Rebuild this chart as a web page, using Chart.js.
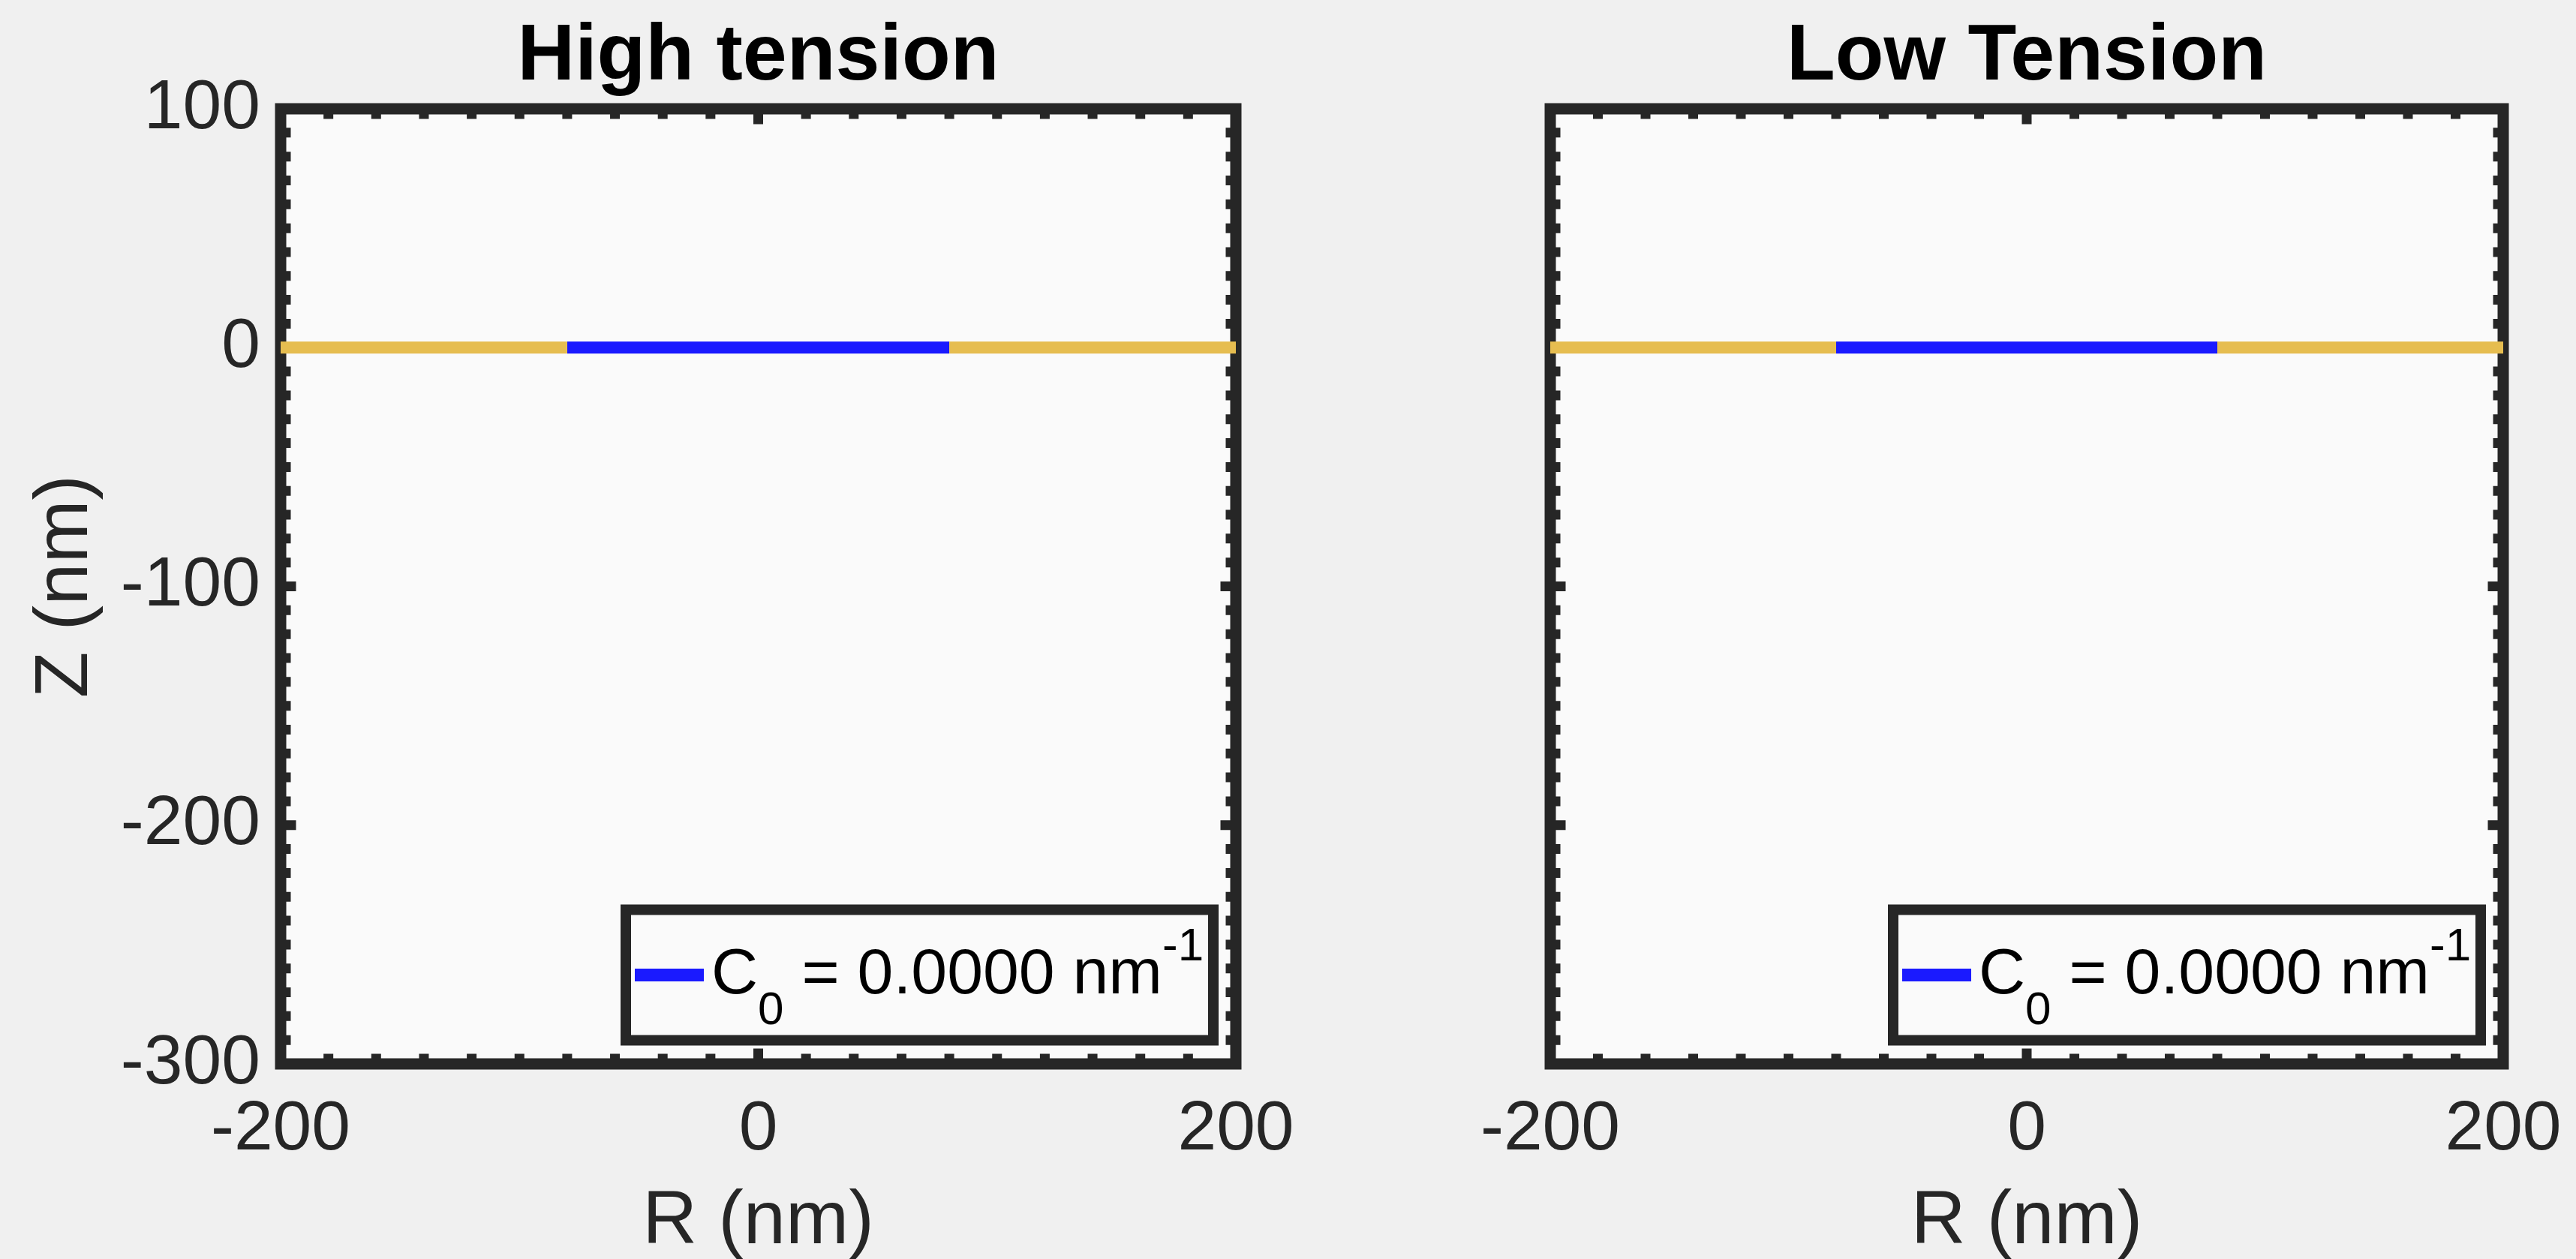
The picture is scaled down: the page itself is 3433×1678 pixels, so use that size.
<!DOCTYPE html>
<html><head><meta charset="utf-8">
<script src="https://cdn.jsdelivr.net/npm/chart.js@4.4.1/dist/chart.umd.min.js"></script>
<style>
html,body{margin:0;padding:0;background:#f0f0f0;width:3433px;height:1678px;overflow:hidden;position:relative}
canvas{position:absolute;top:0}
#c1{left:0}
#c2{left:1760px}
</style></head><body>
<canvas id="c1" width="1800" height="1678" style="width:1800px;height:1678px"></canvas>
<canvas id="c2" width="1740" height="1678" style="width:1740px;height:1678px"></canvas>
<script>
// ---- data ----
const PANEL_TITLES = ['High tension', 'Low Tension'];
const X_TITLE = 'R (nm)';
const Y_TITLE = 'Z (nm)';
const X_RANGE = [-200, 200];
const Y_RANGE = [-300, 100];
const X_TICKS = [-200, 0, 200];
const Y_TICKS = [-300, -200, -100, 0, 100];
const X_MINOR_STEP = 20;
const Y_MINOR_STEP = 10;

// High tension panel
const HIGH_RIM_LEFT_R = [-200, -80];
const HIGH_RIM_LEFT_Z = [0, 0];
const HIGH_PATCH_R = [-80, 80];
const HIGH_PATCH_Z = [0, 0];
const HIGH_RIM_RIGHT_R = [80, 200];
const HIGH_RIM_RIGHT_Z = [0, 0];
const HIGH_C0 = '0.0000';

// Low tension panel
const LOW_RIM_LEFT_R = [-200, -80];
const LOW_RIM_LEFT_Z = [0, 0];
const LOW_PATCH_R = [-80, 80];
const LOW_PATCH_Z = [0, 0];
const LOW_RIM_RIGHT_R = [80, 200];
const LOW_RIM_RIGHT_Z = [0, 0];
const LOW_C0 = '0.0000';

// ---- styling ----
const FONT = "'Liberation Sans', Arial, Helvetica, sans-serif";
const AX = '#262626';
const YELLOW = '#E6BD50';
const BLUE = '#1A1AFF';
Chart.defaults.font.family = FONT;

const pts = (r, z) => r.map((v, i) => ({x: v, y: z[i]}));

const matlabAxes = {
  id: 'matlabAxes',
  beforeDatasetsDraw(chart) {
    const {ctx, chartArea: a, scales: {x, y}} = chart;
    ctx.save();
    ctx.fillStyle = '#FAFAFA';
    ctx.fillRect(a.left, a.top, a.right - a.left, a.bottom - a.top);
    ctx.strokeStyle = AX;
    ctx.lineCap = 'butt';
    ctx.lineWidth = 13;
    const minorLen = 13.5, majorLen = 20.5;
    for (let v = X_RANGE[0] + X_MINOR_STEP; v < X_RANGE[1] - 1e-9; v += X_MINOR_STEP) {
      const px = x.getPixelForValue(v);
      const len = X_TICKS.includes(v) ? majorLen : minorLen;
      ctx.beginPath();
      ctx.moveTo(px, a.bottom); ctx.lineTo(px, a.bottom - len);
      ctx.moveTo(px, a.top); ctx.lineTo(px, a.top + len);
      ctx.stroke();
    }
    for (let v = Y_RANGE[0] + Y_MINOR_STEP; v < Y_RANGE[1] - 1e-9; v += Y_MINOR_STEP) {
      const py = y.getPixelForValue(v);
      const len = Y_TICKS.includes(v) ? majorLen : minorLen;
      ctx.beginPath();
      ctx.moveTo(a.left, py); ctx.lineTo(a.left + len, py);
      ctx.moveTo(a.right, py); ctx.lineTo(a.right - len, py);
      ctx.stroke();
    }
    ctx.lineWidth = 15;
    ctx.lineJoin = 'miter';
    ctx.strokeRect(a.left, a.top, a.right - a.left, a.bottom - a.top);
    ctx.restore();
  },
  afterDatasetsDraw(chart) {
    const {ctx, chartArea: a} = chart;
    const ds = chart.data.datasets.find(d => d.inLegend);
    const L = a.right - 813, R = a.right - 30, T = a.bottom - 205.5, B = a.bottom - 31.5;
    const cy = (T + B) / 2;
    ctx.save();
    ctx.fillStyle = '#FAFAFA';
    ctx.fillRect(L, T, R - L, B - T);
    ctx.strokeStyle = AX;
    ctx.lineWidth = 14;
    ctx.strokeRect(L, T, R - L, B - T);
    ctx.strokeStyle = ds.borderColor;
    ctx.lineWidth = 17;
    ctx.beginPath();
    ctx.moveTo(L + 12, cy); ctx.lineTo(L + 104, cy);
    ctx.stroke();
    ctx.fillStyle = '#000';
    ctx.textBaseline = 'alphabetic';
    ctx.textAlign = 'left';
    const base = cy + 24.5;
    const parts = ds.legendParts;
    let xx = L + 114;
    const big = '86px ' + FONT, small = '62px ' + FONT;
    ctx.font = big; ctx.fillText(parts[0], xx, base); xx += ctx.measureText(parts[0]).width;
    ctx.font = small; ctx.fillText(parts[1], xx, base + 41); xx += ctx.measureText(parts[1]).width;
    ctx.font = big; ctx.fillText(parts[2], xx, base); xx += ctx.measureText(parts[2]).width;
    ctx.font = small; ctx.fillText(parts[3], xx, base - 44);
    ctx.restore();
  }
};

function makePanel(id, idx, rimL, patch, rimR, c0, yAxisWidth, rightPad, showY) {
  const lineDs = (data, color, extra) => Object.assign({
    data, borderColor: color, backgroundColor: color, borderWidth: 16,
    borderCapStyle: 'butt', pointRadius: 0, pointHoverRadius: 0, tension: 0,
    clip: false, fill: false
  }, extra || {});
  return new Chart(document.getElementById(id), {
    type: 'line',
    data: {
      datasets: [
        lineDs(pts(rimL[0], rimL[1]), YELLOW),
        lineDs(pts(rimR[0], rimR[1]), YELLOW),
        lineDs(pts(patch[0], patch[1]), BLUE, {
          label: 'C0 = ' + c0 + ' nm-1', inLegend: true,
          legendParts: ['C', '0', ' = ' + c0 + ' nm', '-1']
        })
      ]
    },
    options: {
      responsive: false, animation: false, devicePixelRatio: 1,
      layout: {padding: {left: 0, right: rightPad, top: 0, bottom: 0}},
      plugins: {
        legend: {display: false},
        tooltip: {enabled: false},
        title: {
          display: true, text: PANEL_TITLES[idx], fullSize: false, color: '#000',
          font: {size: 106, weight: 'bold', lineHeight: 1},
          padding: {top: 24, bottom: 15}
        }
      },
      scales: {
        x: {
          type: 'linear', min: X_RANGE[0], max: X_RANGE[1],
          afterBuildTicks: s => { s.ticks = X_TICKS.map(v => ({value: v})); },
          afterFit: s => { s.height = 260; },
          grid: {display: false, drawTicks: false},
          border: {display: false},
          ticks: {color: AX, font: {size: 93, lineHeight: 1}, padding: 42, autoSkip: false, maxRotation: 0, minRotation: 0,
                  callback: v => String(v)},
          title: {display: true, text: X_TITLE, color: AX, font: {size: 101, lineHeight: 1}, padding: {top: 0, bottom: -2}}
        },
        y: {
          type: 'linear', min: Y_RANGE[0], max: Y_RANGE[1],
          afterBuildTicks: s => { s.ticks = Y_TICKS.map(v => ({value: v})); },
          afterFit: s => { s.width = yAxisWidth; },
          grid: {display: false, drawTicks: false},
          border: {display: false},
          ticks: {display: showY, color: AX, font: {size: 93, lineHeight: 1}, padding: 27, autoSkip: false,
                  callback: v => String(v)},
          title: {display: showY, text: Y_TITLE, color: AX, font: {size: 101, lineHeight: 1}, padding: {top: 38, bottom: 0}}
        }
      }
    },
    plugins: [matlabAxes]
  });
}

// left panel: chart area x 374..1647 ; right panel: chart area x 2066..3336 (canvas starts at 1760)
makePanel('c1', 0, [HIGH_RIM_LEFT_R, HIGH_RIM_LEFT_Z], [HIGH_PATCH_R, HIGH_PATCH_Z], [HIGH_RIM_RIGHT_R, HIGH_RIM_RIGHT_Z], HIGH_C0, 374, 1800 - 1647, true);
makePanel('c2', 1, [LOW_RIM_LEFT_R, LOW_RIM_LEFT_Z], [LOW_PATCH_R, LOW_PATCH_Z], [LOW_RIM_RIGHT_R, LOW_RIM_RIGHT_Z], LOW_C0, 306, 1740 - 1576, false);
</script>
</body></html>
